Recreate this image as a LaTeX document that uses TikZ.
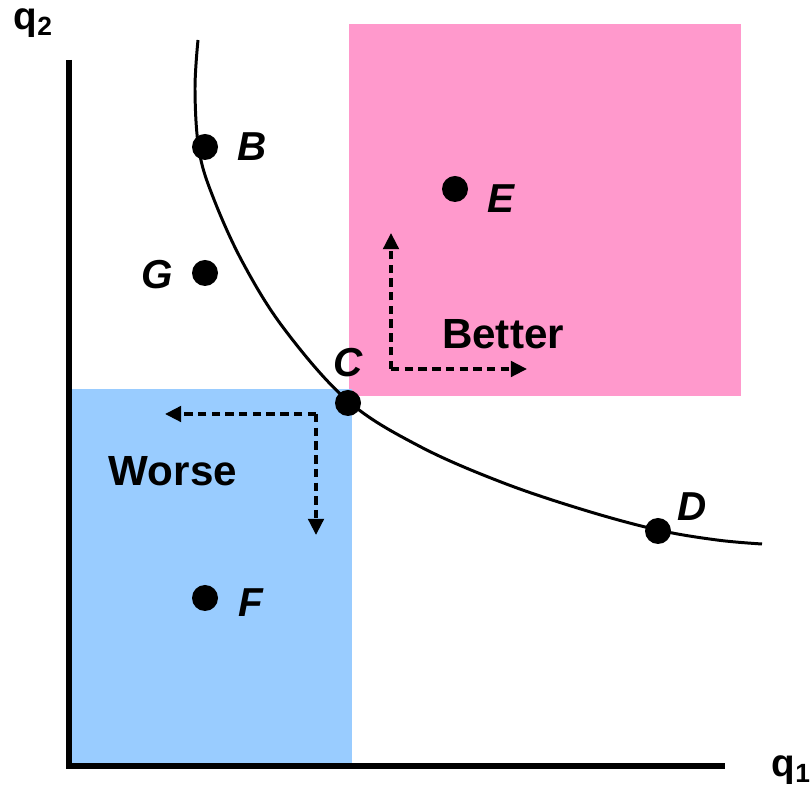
\documentclass[tikz,border=0pt]{standalone}
\usepackage{fontspec}
\setmainfont{Liberation Sans}
\usetikzlibrary{arrows.meta}
\definecolor{betterpink}{HTML}{FF99CC}
\definecolor{worseblue}{HTML}{99CCFF}

\begin{document}
\begin{tikzpicture}[scale=1,
  ptlabel/.style={font=\fontsize{11.5}{13}\selectfont\bfseries\itshape},
  arealabel/.style={font=\fontsize{12}{14}\selectfont\bfseries},
  axlabel/.style={font=\fontsize{11}{13}\selectfont\bfseries},
  dasharrow/.style={line width=1pt,dash pattern=on 2.4pt off 1.5pt,-{Triangle[length=4.6pt,width=4.4pt]}}]
\useasboundingbox (0,0) rectangle (8.11,7.88);
\coordinate (B) at (2.05,6.41);
\coordinate (E) at (4.55,5.99);
\coordinate (G) at (2.05,5.15);
\coordinate (C) at (3.48,3.85);
\coordinate (D) at (6.58,2.57);
\coordinate (F) at (2.05,1.90);
\coordinate (O) at (0.69,0.22);
\coordinate (Ytop) at (0.69,7.28);
\coordinate (Xend) at (7.25,0.22);
% regions
\fill[betterpink] (3.49,7.64) rectangle (7.41,3.92);
\fill[worseblue] (0.71,3.99) rectangle (3.52,0.25);
% axes
\draw[line width=1.7pt] (Ytop)--(O)--(Xend);
\node[axlabel] (q2) at (0.33,7.65) {q{\fontsize{7.5}{8}\selectfont\raisebox{-0.45ex}{2}}};
\node[axlabel] (q1) at (7.91,0.18) {q{\fontsize{7.5}{8}\selectfont\raisebox{-0.45ex}{1}}};
% indifference curve
\draw[line width=0.85pt] plot[smooth,tension=0.6] coordinates {(1.98,7.48) (1.95,6.98) (1.99,6.38) (2.13,5.91) (2.43,5.25) (2.85,4.58) (3.48,3.87) (4.19,3.42) (5.01,3.06) (5.84,2.78) (6.58,2.58) (7.17,2.48) (7.62,2.44)};
% better / worse directions
\coordinate (Bc) at (3.91,4.19);
\coordinate (Bup) at (3.91,5.55);
\coordinate (Bright) at (5.27,4.19);
\coordinate (Wc) at (3.16,3.74);
\coordinate (Wleft) at (1.65,3.74);
\coordinate (Wdown) at (3.16,2.53);
\draw[dasharrow] (Bc)--(Bup);
\draw[dasharrow] (Bc)--(Bright);
\draw[dasharrow] (Wc)--(Wleft);
\draw[dasharrow] (Wc)--(Wdown);
\node[arealabel] (better) at (5.03,4.54) {Better};
\node[arealabel] (worse) at (1.73,3.17) {Worse};
% bundles
\foreach \p in {B,E,G,C,D,F}
  \fill (\p) circle [radius=0.13];
\node[ptlabel] (lB) at (2.52,6.41) {B};
\node[ptlabel] (lE) at (5.01,5.89) {E};
\node[ptlabel] (lG) at (1.57,5.13) {G};
\node[ptlabel] (lC) at (3.48,4.25) {C};
\node[ptlabel] (lD) at (6.92,2.81) {D};
\node[ptlabel] (lF) at (2.51,1.85) {F};
\end{tikzpicture}
\end{document}
